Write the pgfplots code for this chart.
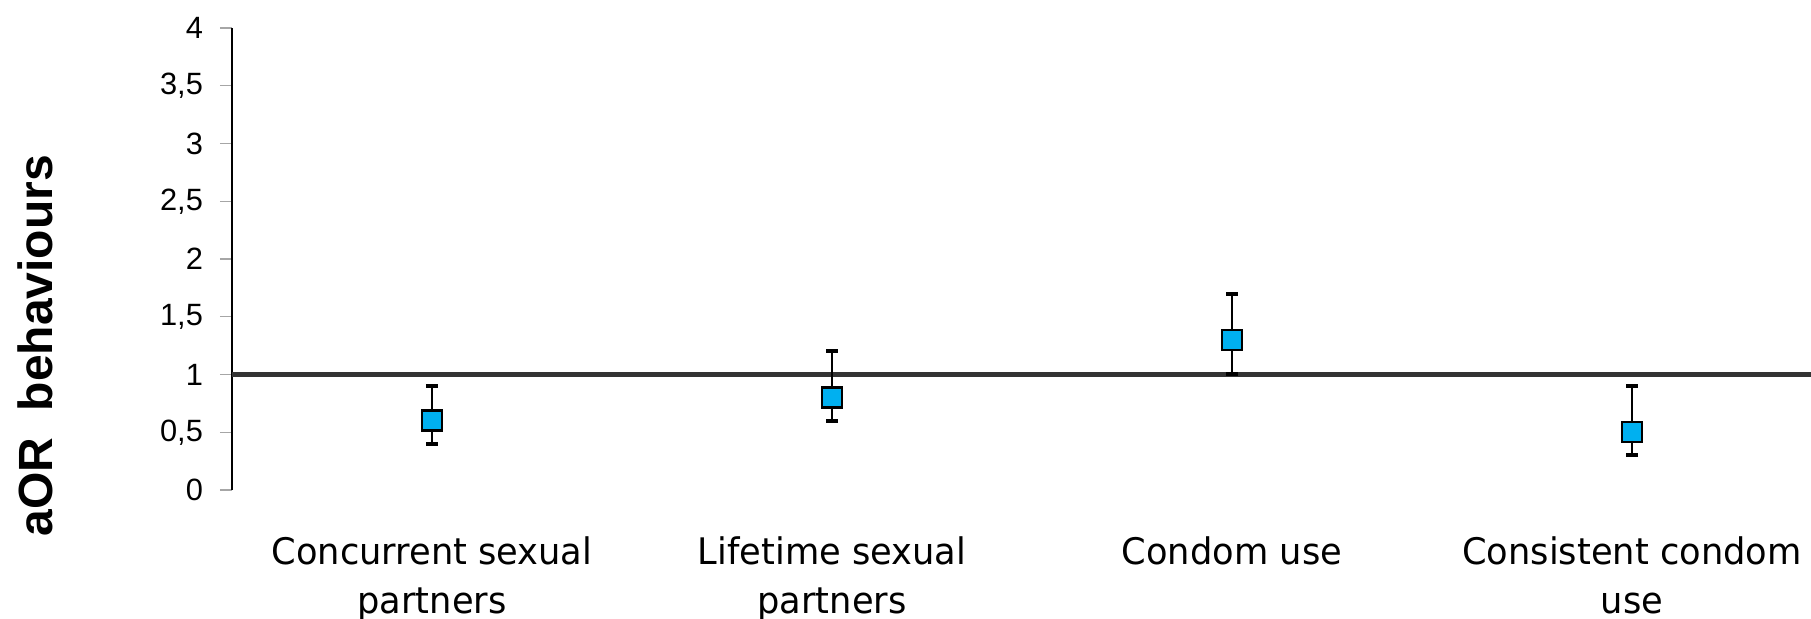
\documentclass[border=0pt]{standalone}
\usepackage{pgfplots}
\pgfplotsset{compat=1.18}
\usepackage{fontspec}
\setmainfont{Liberation Sans}
\newfontfamily\catfont[FakeStretch=1.07]{DejaVu Sans Condensed}
\definecolor{mblue}{HTML}{00B0F0}
\definecolor{refline}{HTML}{333333}
\begin{document}
\begin{tikzpicture}
\begin{axis}[
  scale only axis,
  width=789.5pt, height=231pt,
  xmin=-0.5, xmax=3.4475,
  ymin=0, ymax=4,
  axis lines*=left,
  x axis line style={draw=none},
  y axis line style={black, line width=0.7pt},
  xtick={0,1,2,3},
  xticklabels={{Concurrent sexual\\partners},{Lifetime sexual\\partners},{Condom use},{Consistent condom\\use}},
  xtick style={draw=none},
  xticklabel style={font=\catfont\fontsize{18.3}{24.3}\selectfont, align=center, anchor=north, yshift=-14pt},
  ytick={0,0.5,1,1.5,2,2.5,3,3.5,4},
  ytick pos=left,
  tick align=outside,
  major tick length=6pt,
  ytick style={gray!70, line width=0.6pt},
  yticklabel style={font=\fontsize{15.4}{18}\selectfont, xshift=-5pt},
  /pgf/number format/.cd, use comma, fixed, precision=1, assume math mode=true,
  /pgfplots/.cd,
  clip=false,
]
\addplot[refline, line width=2.5pt, forget plot] coordinates {(-0.5,1) (3.4475,1)};
\addplot[
  only marks,
  mark=square*,
  mark size=5pt,
  mark options={fill=mblue, draw=black, line width=1.2pt},
  error bars/.cd,
    y dir=both, y explicit,
    error bar style={black, line width=1pt},
    error mark options={rotate=90, mark size=3pt, line width=2pt, black},
] table[x=x, y=y, y error plus=ep, y error minus=em] {
x y ep em
0 0.6 0.3 0.2
1 0.8 0.4 0.2
2 1.3 0.4 0.3
3 0.5 0.4 0.2
};
\node[rotate=90, font=\bfseries\fontsize{24}{28}\selectfont] at ([xshift=-98.5pt]rel axis cs:0,0.312) {aOR\ \ behaviours};
\end{axis}
\pgfresetboundingbox
\path ([xshift=-116pt,yshift=-64.5pt]current axis.south west) rectangle ([yshift=14pt]current axis.north east);
\end{tikzpicture}
\end{document}
